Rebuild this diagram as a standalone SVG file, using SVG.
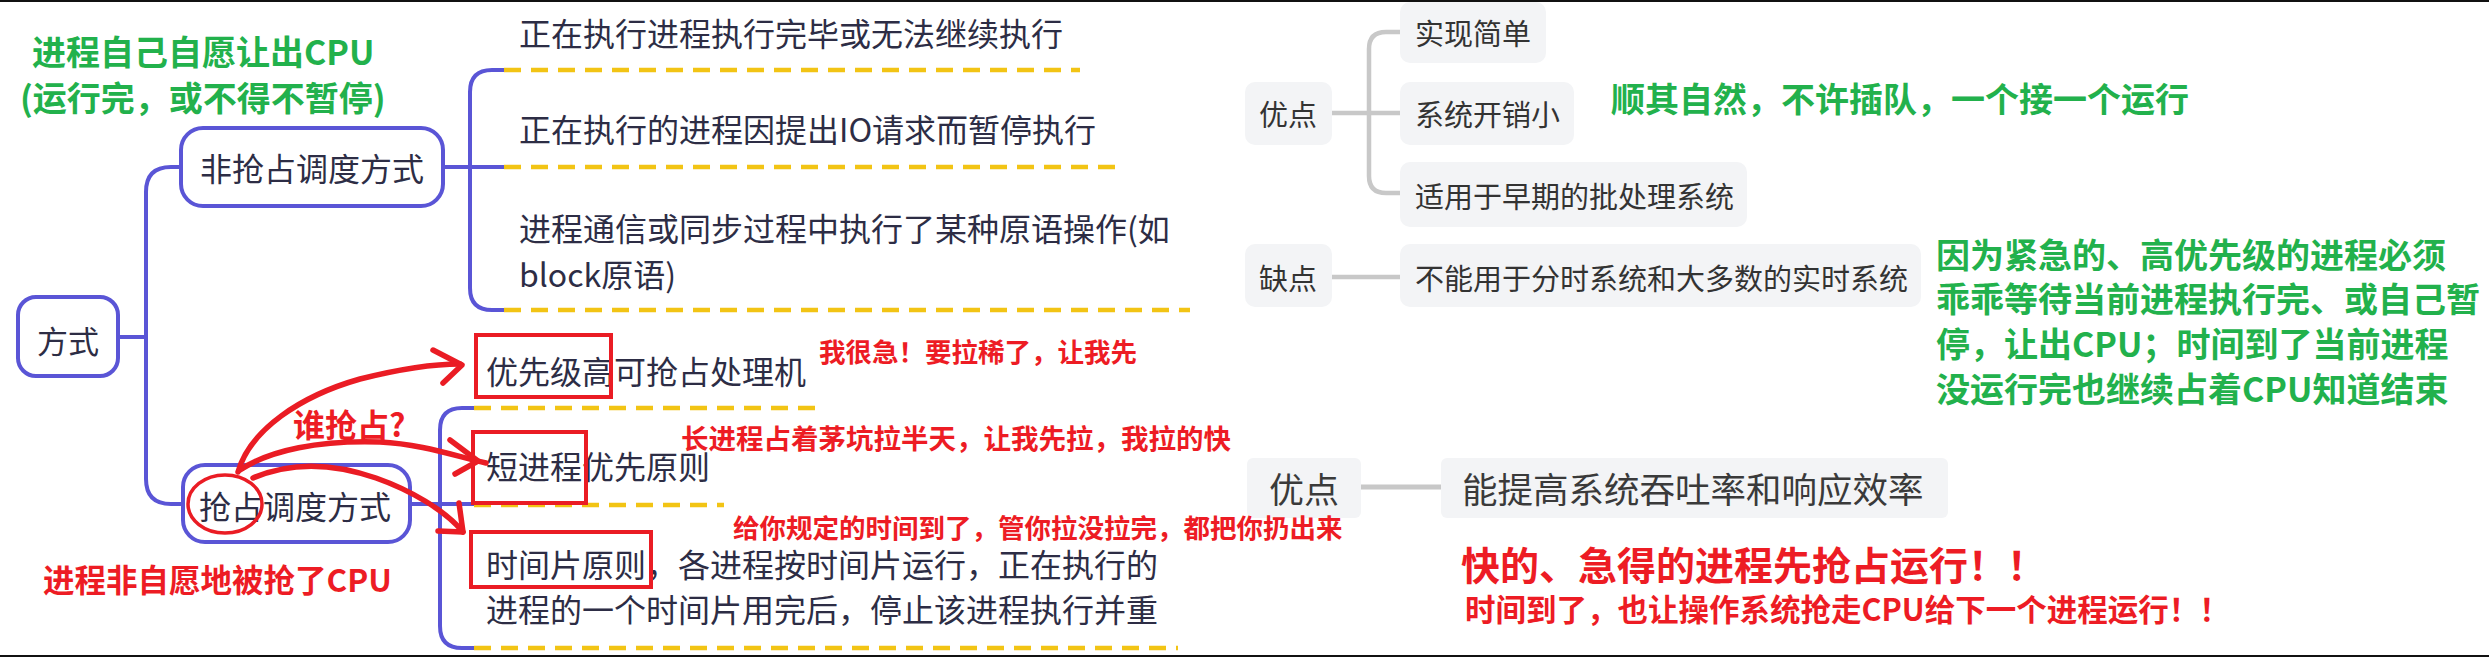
<svg xmlns="http://www.w3.org/2000/svg" width="2489" height="657" viewBox="0 0 2489 657">
<defs>
<style>
text{font-family:"Noto Sans CJK SC","Noto Sans",sans-serif;dominant-baseline:central}
.mm{fill:#2d2d45;font-size:32px}
.mm2{fill:#2d2d45;font-size:32px}
.node{fill:#fff;stroke:#5a55d6;stroke-width:4}
.conn{fill:none;stroke:#5a55d6;stroke-width:4}
.dash{fill:none;stroke:#f2c414;stroke-width:4.5;stroke-dasharray:17 10}
.gconn{fill:none;stroke:#c8c8c8;stroke-width:4.5}
.gbox{fill:#f3f4f6}
.gt{fill:#333;font-size:29px}
.green{fill:#22b14c;font-weight:bold}
.red{fill:#ed1c24;font-weight:bold}
.rbox{fill:none;stroke:#ea1c24;stroke-width:4}
.arrow{fill:none;stroke:#ea1c24;stroke-width:5.5;stroke-linecap:round;stroke-linejoin:round}
</style>
</defs>
<rect x="0" y="0" width="2489" height="657" fill="#fff"/>
<rect x="0" y="0" width="2489" height="2" fill="#111"/>
<rect x="0" y="655" width="2489" height="2" fill="#111"/>

<g id="connectors">
<path class="conn" d="M118,337 H146"/>
<path class="conn" d="M181,167 H171 Q146,167 146,192 V479 Q146,504 171,504 H183"/>
<path class="conn" d="M443,167 H504"/>
<path class="conn" d="M504,70 H492 Q470,70 470,92 V288 Q470,310 492,310 H504"/>
<path class="conn" d="M410,504 H474"/>
<path class="conn" d="M474,408 H462 Q440,408 440,430 V626 Q440,648 462,648 H474"/>
<path class="dash" d="M504,70 H1080"/>
<path class="dash" d="M504,167 H1117"/>
<path class="dash" d="M504,310 H1190"/>
<path class="dash" d="M474,408 H822"/>
<path class="dash" d="M474,505 H724"/>
<path class="dash" d="M474,648 H1178"/>
<path class="gconn" d="M1332,113 H1400"/>
<path class="gconn" d="M1400,32 H1386 Q1369,32 1369,49 V176 Q1369,193 1386,193 H1400"/>
<path class="gconn" d="M1332,277 H1400"/>
<path class="gconn" d="M1361,487 H1441" style="stroke-width:5"/>
</g>

<g id="n-fangshi">
<rect class="node" x="18" y="297" width="100" height="79" rx="18"/>
<text class="mm" x="68" y="339" text-anchor="middle" style="font-size:31px">方式</text>
</g>
<g id="n-feiqiangzhan">
<rect class="node" x="181" y="128" width="262" height="78" rx="22"/>
<text class="mm2" x="312" y="167" text-anchor="middle">非抢占调度方式</text>
</g>
<g id="n-qiangzhan">
<rect class="node" x="183" y="465" width="227" height="77" rx="22"/>
<text class="mm2" x="295" y="505" text-anchor="middle">抢占调度方式</text>
</g>

<g id="n-f1"><text class="mm" x="519" y="32">正在执行进程执行完毕或无法继续执行</text></g>
<g id="n-f2"><text class="mm" x="519" y="128">正在执行的进程因提出IO请求而暂停执行</text></g>
<g id="n-f3"><text class="mm" x="519" y="227">进程通信或同步过程中执行了某种原语操作(如</text><text class="mm" x="519" y="273">block原语)</text></g>

<g id="n-q1"><text class="mm2" x="486" y="370">优先级高可抢占处理机</text></g>
<g id="n-q2"><text class="mm2" x="486" y="465">短进程优先原则</text></g>
<g id="n-q3"><text class="mm2" x="486" y="563">时间片原则，各进程按时间片运行，正在执行的</text><text class="mm2" x="486" y="608">进程的一个时间片用完后，停止该进程执行并重</text></g>

<g id="n-youdian1">
<rect class="gbox" x="1245" y="82" width="87" height="63" rx="10"/>
<text class="gt" x="1288" y="113" text-anchor="middle">优点</text>
</g>
<g id="n-y1"><rect class="gbox" x="1400" y="2" width="146" height="61" rx="10"/><text class="gt" x="1415" y="32">实现简单</text></g>
<g id="n-y2"><rect class="gbox" x="1400" y="82" width="174" height="63" rx="10"/><text class="gt" x="1415" y="113">系统开销小</text></g>
<g id="n-y3"><rect class="gbox" x="1400" y="162" width="347" height="65" rx="10"/><text class="gt" x="1415" y="195">适用于早期的批处理系统</text></g>
<g id="n-quedian">
<rect class="gbox" x="1245" y="244" width="87" height="63" rx="10"/>
<text class="gt" x="1288" y="277" text-anchor="middle">缺点</text>
</g>
<g id="n-q-1"><rect class="gbox" x="1400" y="244" width="521" height="63" rx="10"/><text class="gt" x="1415" y="277">不能用于分时系统和大多数的实时系统</text></g>

<g id="n-youdian2">
<rect class="gbox" x="1247" y="458" width="114" height="60" rx="6"/>
<text x="1304" y="487" text-anchor="middle" style="fill:#3a3a3a;font-size:35px">优点</text>
</g>
<g id="n-yd2"><rect class="gbox" x="1441" y="458" width="507" height="60" rx="6"/><text x="1462" y="487" style="fill:#3a3a3a;font-size:35.5px">能提高系统吞吐率和响应效率</text></g>

<g id="annotations">
<text class="green" x="32" y="50" style="font-size:34px">进程自己自愿让出CPU</text>
<text class="green" x="20" y="96" style="font-size:34px">(运行完，或不得不暂停)</text>
<text class="green" x="1611" y="97" style="font-size:34px">顺其自然，不许插队，一个接一个运行</text>
<text class="green" x="1936" y="253" style="font-size:34px">因为紧急的、高优先级的进程必须</text>
<text class="green" x="1936" y="297" style="font-size:34px">乖乖等待当前进程执行完、或自己暂</text>
<text class="green" x="1936" y="342" style="font-size:34px">停，让出CPU；时间到了当前进程</text>
<text class="green" x="1936" y="387" style="font-size:34px">没运行完也继续占着CPU知道结束</text>

<rect class="rbox" x="476" y="335" width="135" height="62"/>
<rect class="rbox" x="473" y="432" width="113" height="71"/>
<rect class="rbox" x="471" y="532" width="180" height="55"/>
<ellipse cx="225" cy="504" rx="37" ry="29" fill="none" stroke="#ea1c24" stroke-width="3.5"/>
<path class="arrow" d="M238,472 C250,430 300,396 360,379 C400,369 430,364 460,364"/>
<path class="arrow" d="M433,350 L462,365 L443,383"/>
<path class="arrow" d="M240,470 C270,450 320,440 380,442 C420,444 452,455 486,463"/>
<path class="arrow" d="M450,440 L478,461 L455,474"/>
<path class="arrow" d="M253,478 C290,462 330,462 376,478 C410,490 445,510 463,532"/>
<path class="arrow" d="M459,503 L463,532 L438,531"/>

<text class="red" x="293" y="423" style="font-size:32px">谁抢占?</text>
<text class="red" x="43" y="578" style="font-size:31.5px">进程非自愿地被抢了CPU</text>
<text class="red" x="819" y="350" style="font-size:26.5px">我很急！要拉稀了，让我先</text>
<text class="red" x="681" y="437" style="font-size:27.5px">长进程占着茅坑拉半天，让我先拉，我拉的快</text>
<text class="red" x="733" y="526" style="font-size:26.5px">给你规定的时间到了，管你拉没拉完，都把你扔出来</text>
<text class="red" x="1461" y="563" style="font-size:39px">快的、急得的进程先抢占运行！！</text>
<text class="red" x="1465" y="608" style="font-size:30.5px">时间到了，也让操作系统抢走CPU给下一个进程运行！！</text>
</g>
</svg>
